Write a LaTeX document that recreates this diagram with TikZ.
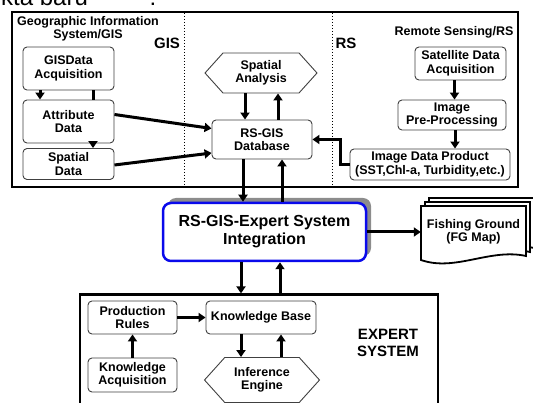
\documentclass[tikz,border=0pt]{standalone}
\usepackage{fontspec}
\setmainfont{Liberation Sans}
\usetikzlibrary{arrows.meta,shapes.symbols,shadows}
\definecolor{intblue}{RGB}{10,10,235}

\begin{document}
\begin{tikzpicture}[x=1pt,y=-1pt]
  \tikzstyle{box}=[draw=black!75, line width=0.9pt, rounded corners=4pt, fill=white, align=center, inner sep=1pt, font=\bfseries\fontsize{12.5}{13.5}\selectfont]
  \tikzstyle{hexa}=[box, rounded corners=0pt, signal, signal to=west and east, signal pointer angle=96]
  \tikzstyle{frame}=[draw, line width=2.2pt, inner sep=0pt]
  \tikzstyle{arr}=[line width=3pt, -{Triangle[length=7pt,width=9pt]}]
  \tikzstyle{heading}=[align=center, inner sep=0pt, font=\bfseries\fontsize{12.5}{13.5}\selectfont]
  \tikzstyle{big}=[align=center, inner sep=0pt, font=\bfseries\fontsize{15}{17}\selectfont]
  \tikzstyle{page}=[draw, line width=1.8pt, fill=white]

  \useasboundingbox (0,0) rectangle (533,403);
  \clip (0,0) rectangle (533,403);

  % frames
  \path (265,99.5) node[frame, minimum width=506pt, minimum height=175pt] (gisrs) {};
  \path (259,362) node[frame, minimum width=358pt, minimum height=135pt] (expert) {};
  \foreach \x in {184,332}
    \draw[dotted, line width=1pt] (\x,13) -- (\x,186);

  % texts
  \path (1,6) node[anchor=base west, inner sep=0pt, font=\fontsize{24}{24}\selectfont] (cut) {kta baru};
  \path (153,6) node[anchor=base, inner sep=0pt, font=\fontsize{24}{24}\selectfont] (colon) {:};
  \path (88,29) node[heading] (gistitle) {Geographic Information\\System/GIS};
  \path (454,32) node[heading] (rstitle) {Remote Sensing/RS};
  \path (167,43) node[big] (gislbl) {GIS};
  \path (346,43) node[big] (rslbl) {RS};
  \path (388,343) node[big] (eslbl) {EXPERT\\SYSTEM};

  % GIS
  \path (68.5,68.5) node[box, minimum width=91pt, minimum height=43pt] (gisacq) {GISData\\Acquisition};
  \path (68.5,121.5) node[box, minimum width=91pt, minimum height=43pt] (attr) {Attribute\\Data};
  \path (68.5,164) node[box, minimum width=91pt, minimum height=31pt] (spatial) {Spatial\\Data};
  \path (261,73) node[hexa, minimum width=112pt, minimum height=40pt] (sa) {Spatial\\Analysis};
  \path (262,139.5) node[box, minimum width=100pt, minimum height=39pt] (db) {RS-GIS\\Database};

  % RS
  \path (460.5,63.5) node[box, minimum width=91pt, minimum height=33pt] (sat) {Satellite Data\\Acquisition};
  \path (452,115) node[box, minimum width=108pt, minimum height=30pt] (pre) {Image\\Pre-Processing};
  \path (430,164.5) node[box, minimum width=160pt, minimum height=31pt] (idp) {Image Data Product\\(SST,Chl-a, Turbidity,etc.)};

  % integration and output
  \path (264.5,232) node[box, draw=intblue, line width=2.5pt, rounded corners=8pt, minimum width=203pt, minimum height=58pt,
    font=\bfseries\fontsize{16}{18}\selectfont,
    drop shadow={shadow xshift=5pt, shadow yshift=5pt, fill=black!45, opacity=1}] (integ) {RS-GIS-Expert System\\Integration};
  \foreach \d in {8,4,0}
    \draw[page] (421+\d,206-\d) -- (526+\d,206-\d) -- (526+\d,256-\d)
      .. controls (490+\d,248-\d) and (455+\d,272-\d) .. (421+\d,260-\d) -- cycle;
  \path (473.5,232) node[heading, minimum width=105pt] (fg) {Fishing Ground\\(FG Map)};

  % expert system
  \path (132.5,317.5) node[box, minimum width=89pt, minimum height=33pt] (pr) {Production\\Rules};
  \path (261,317.5) node[box, minimum width=110pt, minimum height=33pt] (kb) {Knowledge Base};
  \path (132.5,375) node[box, minimum width=89pt, minimum height=34pt] (ka) {Knowledge\\Acquisition};
  \path (262,380) node[hexa, minimum width=115pt, minimum height=45pt] (ie) {Inference\\Engine};

  \draw[arr] ([xshift=-28.5pt]gisacq.south) -- ([xshift=-28.5pt]attr.north);
  \draw[line width=3pt] ([xshift=24.5pt]gisacq.south) -- ([xshift=24.5pt]attr.north);
  \draw[arr] ([xshift=24.5pt]attr.south) -- ([xshift=24.5pt]spatial.north);
  \draw[arr] ([yshift=7pt]attr.east) -- ([yshift=11pt]db.west);
  \draw[arr] ([yshift=-1pt]spatial.east) -- ([yshift=-13.5pt]db.west);
  \draw[arr] ([xshift=-16pt]sa.south) -- ([xshift=-16pt]sa.south |- db.north);
  \draw[arr] ([xshift=16pt]db.north) -- ([xshift=16pt]db.north |- sa.south);
  \draw[arr] ([xshift=-6pt]sat.south) -- ([xshift=-6pt]sat.south |- pre.north);
  \draw[arr] ([xshift=3pt]pre.south) -- ([xshift=3pt]pre.south |- idp.north);
  \draw[arr] (idp.west) -- ++(-9pt,0) |- (db.east);
  \draw[arr] ([xshift=-19pt]db.south) -- ([xshift=-19pt]db.south |- integ.north);
  \draw[arr] ([xshift=20pt]db.south |- integ.north) -- ([xshift=20pt]db.south);
  \draw[arr] (integ.east) -- (fg.west);
  \draw[arr] ([xshift=-23.5pt]integ.south) -- ([xshift=-23.5pt]integ.south |- expert.north);
  \draw[arr] ([xshift=15.5pt]integ.south |- expert.north) -- ([xshift=15.5pt]integ.south);
  \draw[arr] (pr.east) -- (kb.west);
  \draw[arr] (ka.north) -- (pr.south);
  \draw[arr] ([xshift=-20pt]kb.south) -- ([xshift=-20pt]kb.south |- ie.north);
  \draw[arr] ([xshift=20pt]kb.south |- ie.north) -- ([xshift=20pt]kb.south);
\end{tikzpicture}
\end{document}
